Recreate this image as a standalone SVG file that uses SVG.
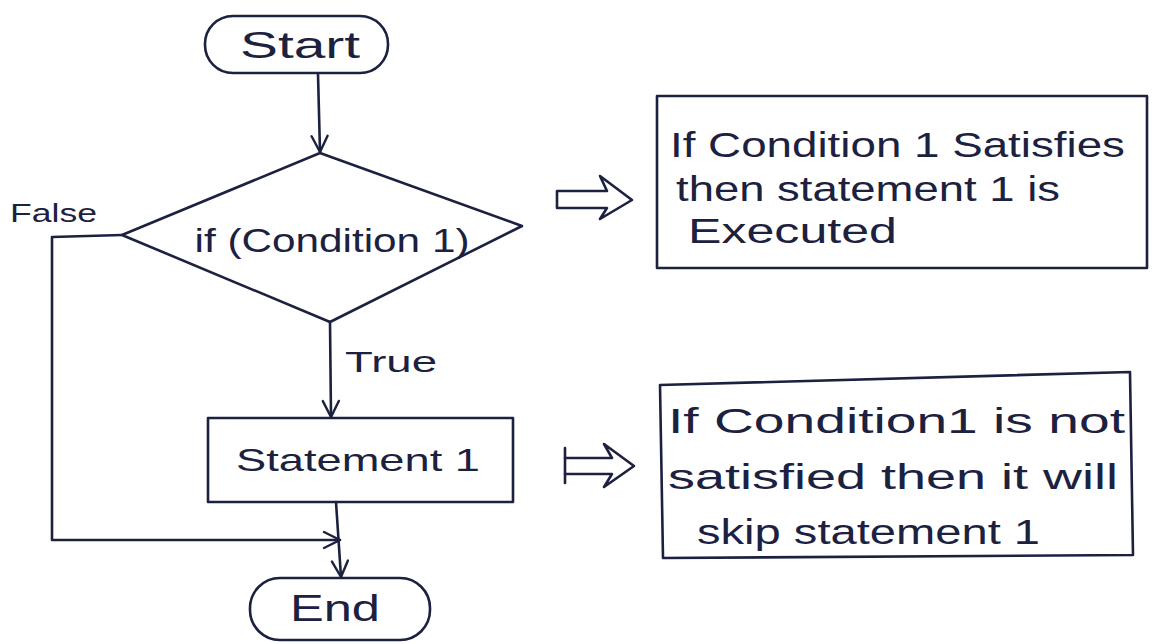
<svg xmlns="http://www.w3.org/2000/svg" width="1158" height="644" viewBox="0 0 1158 644">
  <defs>
    <marker id="vhead" viewBox="0 0 20 20" refX="18" refY="10" markerWidth="20" markerHeight="20" markerUnits="userSpaceOnUse" orient="auto">
      <path d="M2,2 L18,10 L2,18" fill="none" stroke="#1c2140" stroke-width="2.4" stroke-linecap="round" stroke-linejoin="round"/>
    </marker>
    <style>
      .ink { fill: none; stroke: #1c2140; stroke-width: 2.6; stroke-linecap: round; stroke-linejoin: round; }
      .txt { font-family: "Liberation Sans", Arial, sans-serif; fill: #1c2140; }
      .mid { text-anchor: middle; }
    </style>
  </defs>
  <rect width="1158" height="644" fill="#ffffff"/>

  <!-- connectors -->
  <g id="connectors">
    <path class="ink" d="M318,74 L320,152" marker-end="url(#vhead)"/>
    <path class="ink" d="M330,322 L331,417" marker-end="url(#vhead)"/>
    <path class="ink" d="M122,235 L52,237 L52,540 L340,540" marker-end="url(#vhead)"/>
    <path class="ink" d="M336,502 L341,577" marker-end="url(#vhead)"/>
    <text class="txt" x="10" y="222" font-size="26" textLength="87" lengthAdjust="spacingAndGlyphs">False</text>
    <text class="txt" x="345" y="372" font-size="30" textLength="92" lengthAdjust="spacingAndGlyphs">True</text>
  </g>

  <g id="start">
    <rect class="ink" x="205" y="16" width="183" height="57" rx="28"/>
    <text class="txt mid" x="300" y="58" font-size="37" textLength="120" lengthAdjust="spacingAndGlyphs">Start</text>
  </g>

  <g id="decision">
    <path class="ink" d="M320,153 L522,226 L330,322 L122,235 Z"/>
    <text class="txt mid" x="332" y="252" font-size="34" textLength="275" lengthAdjust="spacingAndGlyphs">if (Condition 1)</text>
  </g>

  <g id="statement">
    <rect class="ink" x="208" y="418" width="305" height="84"/>
    <text class="txt mid" x="358" y="471" font-size="32" textLength="244" lengthAdjust="spacingAndGlyphs">Statement 1</text>
  </g>

  <g id="end">
    <rect class="ink" x="250" y="578" width="180" height="62" rx="30"/>
    <text class="txt mid" x="335" y="621" font-size="37" textLength="90" lengthAdjust="spacingAndGlyphs">End</text>
  </g>

  <!-- explanation notes with hollow arrows -->
  <g id="note-true">
    <path class="ink" d="M557,191 L607,191 L600,176 L632,200 L600,219 L607,208 L557,208 Z"/>
    <rect class="ink" x="657" y="96" width="490" height="172"/>
    <text class="txt" x="670" y="157" font-size="35" textLength="455" lengthAdjust="spacingAndGlyphs">If Condition 1 Satisfies</text>
    <text class="txt" x="676" y="201" font-size="35" textLength="384" lengthAdjust="spacingAndGlyphs">then statement 1 is</text>
    <text class="txt" x="688" y="243" font-size="35" textLength="209" lengthAdjust="spacingAndGlyphs">Executed</text>
  </g>

  <g id="note-false">
    <path class="ink" d="M565,448 L565,483"/>
    <path class="ink" d="M565,458 L612,458 L604,444 L634,466 L604,487 L612,474 L565,474"/>
    <path class="ink" d="M660,385 L1130,372 L1133,555 L663,558 Z"/>
    <text class="txt" x="668" y="433" font-size="35" textLength="457" lengthAdjust="spacingAndGlyphs">If Condition1 is not</text>
    <text class="txt" x="668" y="489" font-size="35" textLength="450" lengthAdjust="spacingAndGlyphs">satisfied then it will</text>
    <text class="txt" x="697" y="544" font-size="35" textLength="343" lengthAdjust="spacingAndGlyphs">skip statement 1</text>
  </g>
</svg>
